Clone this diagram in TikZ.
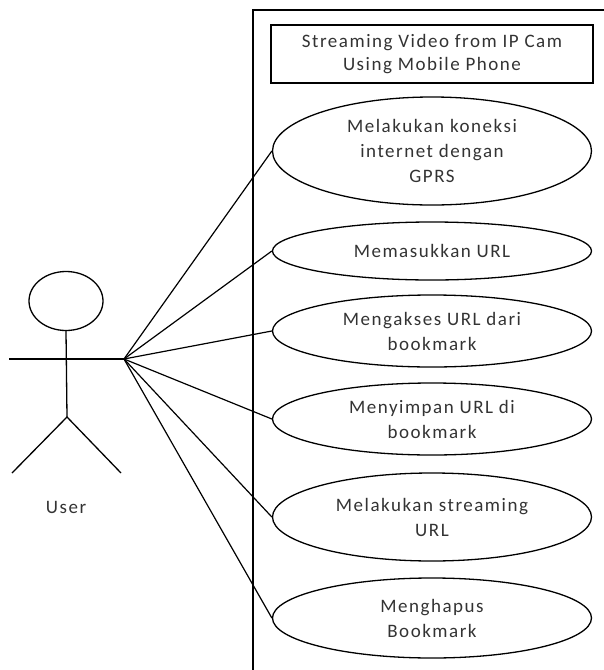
\documentclass[tikz,border=0pt]{standalone}
\usepackage{fontspec}
\setmainfont{Carlito}[LetterSpace=8]
\usetikzlibrary{shapes.geometric}
\begin{document}
\begin{tikzpicture}[x=1pt,y=-1pt,line width=1.3pt,
  uc/.style={draw,ellipse,minimum width=319pt,inner sep=0pt,align=center,
    font=\fontsize{19}{25}\selectfont,text=black!80},
  titlebox/.style={draw,minimum width=322pt,minimum height=58pt,align=center,
    font=\fontsize{19}{23}\selectfont,text=black!80},
  link/.style={line width=1.2pt},
  stick/.style={line width=1.3pt}]
\useasboundingbox (0,0) rectangle (604,670);
% system boundary
\draw (253,670) -- (253,10) -- (604,10);
\node[titlebox] (title) at (432,54) {Streaming Video from IP Cam\\Using Mobile Phone};
% use cases
\node[uc,minimum height=108pt] (u1) at (432,151) {Melakukan koneksi\\internet dengan\\GPRS};
\node[uc,minimum height=58pt] (u2) at (432,251) {Memasukkan URL};
\node[uc,minimum height=72pt] (u3) at (432,331) {Mengakses URL dari\\bookmark};
\node[uc,minimum height=72pt] (u4) at (432,419) {Menyimpan URL di\\bookmark};
\node[uc,minimum height=88pt] (u5) at (432,517) {Melakukan streaming\\URL};
\node[uc,minimum height=80pt] (u6) at (432,618) {Menghapus\\Bookmark};
% actor
\node[draw,stick,ellipse,minimum width=74pt,minimum height=59pt,inner sep=0pt] (head) at (66,301) {};
\coordinate (hip) at (67,417);
\coordinate (larm) at (9,359);
\coordinate (hand) at (124,359);
\coordinate (lfoot) at (12,473);
\coordinate (rfoot) at (121,473);
\draw[stick] (head.south) -- (hip);
\draw[stick] (larm) -- (hand);
\draw[stick] (lfoot) -- (hip) -- (rfoot);
\node[font=\fontsize{19}{20}\selectfont,text=black!80] (user) at (66,507) {User};
% associations
\foreach \u in {u1,u2,u3,u4,u5,u6}
  \draw[link] (hand) -- (\u.west);
\end{tikzpicture}
\end{document}
